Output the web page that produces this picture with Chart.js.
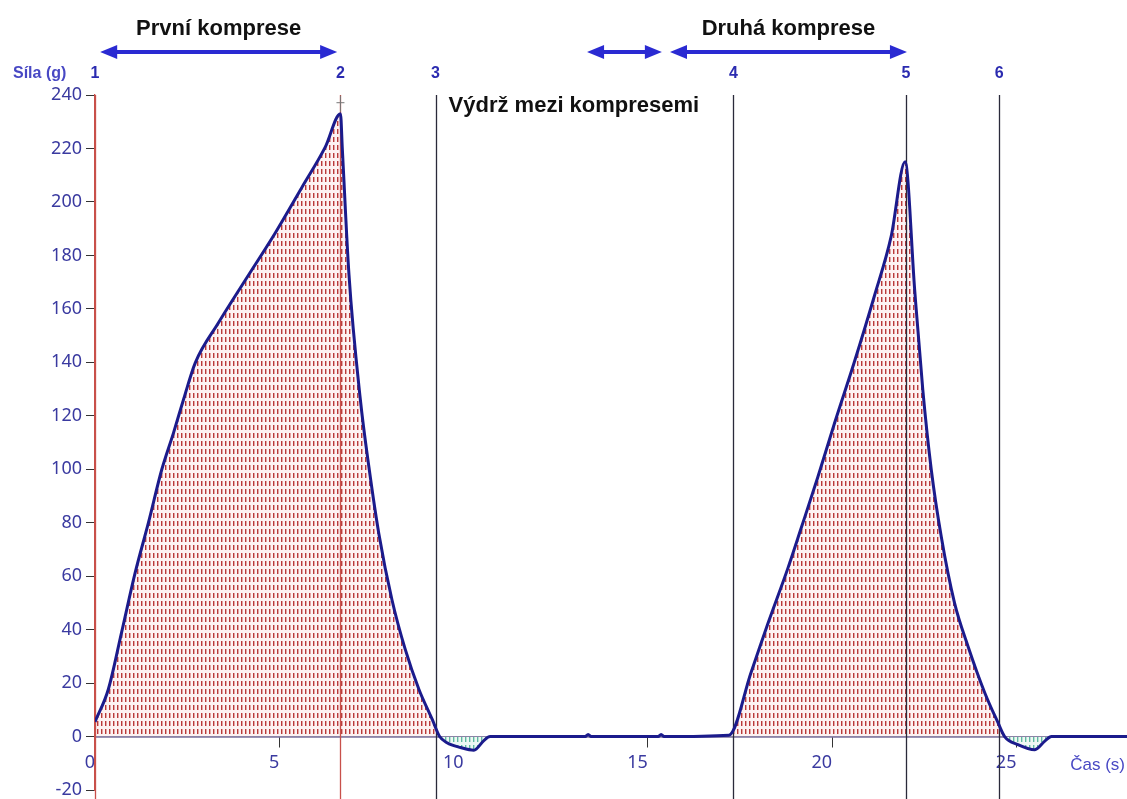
<!DOCTYPE html>
<html>
<head>
<meta charset="utf-8">
<title>Síla v čase – dvojitá komprese</title>
<script src="https://cdn.jsdelivr.net/npm/chart.js@4.4.1/dist/chart.umd.min.js"></script>
<style>
  html, body { margin: 0; padding: 0; background: #ffffff; }
  #wrap { width: 1127px; height: 799px; position: relative; }
</style>
</head>
<body>
<div id="wrap"><canvas id="c" width="1127" height="799"></canvas></div>
<script>
// Measured force curve: time (s) and force (g)
const timeSec = [0, 0.36, 0.72, 1.09, 1.45, 1.81, 2.13, 2.40, 2.72, 3.35,
  4.08, 4.89, 5.62, 6.25, 6.66, 6.71, 6.89, 7.20, 7.43, 7.70,
  8.06, 8.42, 8.79, 9.15, 9.35, 9.55, 9.92, 10.28, 10.55, 10.72,
  12.0, 13.30, 13.38, 13.46, 15.28, 15.36, 15.44, 17.2, 17.8, 18.25,
  18.8, 19.16, 19.61, 20.06, 20.6, 21.15, 21.6, 21.98, 22.24, 22.46,
  22.69, 22.96, 23.32, 23.69, 24.14, 24.5, 24.68, 25.04, 25.5, 25.77,
  25.95, 28.0];
const forceG = [5.5, 17.6, 38.9, 61.3, 80, 99.8, 113.6, 126, 139.8, 154.8,
  170.8, 188.4, 205.6, 220.6, 233, 220, 173, 126, 101, 76,
  51, 32.5, 17.6, 6.4, 0, -2.3, -4.1, -5.1, -1.5, 0,
  0, 0, 0.8, 0, 0, 0.8, 0, 0.5, 24, 42,
  63, 78, 97, 117, 140, 165, 187, 215, 167, 129.7,
  99.8, 74.8, 50, 33.6, 16.4, 5.2, 0, -3, -4.9, -1.7,
  0, 0];

// Numbered event markers (s)
const markerTimes = [0, 6.66, 9.24, 17.32, 22.0, 24.53];
const markerLabels = ['1', '2', '3', '4', '5', '6'];
const markerRed = [true, true, false, false, false, false];

// Phase arrows (start s, end s) and their captions
const arrowSpans = [[0.14, 6.57], [13.35, 15.38], [15.6, 22.03]];
const arrowCaptions = ['První komprese', '', 'Druhá komprese'];
const holdCaption = 'Výdrž mezi kompresemi';

// Axis settings
const xMin = 0, xMax = 28, xStep = 5;
const yMin = -20, yMax = 240, yStep = 20;
const yTitle = 'Síla (g)';
const xTitle = 'Čas (s)';

const canvas = document.getElementById('c');
const ctx0 = canvas.getContext('2d');

function hatch(bg, dark, light) {
  const t = document.createElement('canvas');
  t.width = 4; t.height = 8;
  const g = t.getContext('2d');
  g.fillStyle = bg; g.fillRect(0, 0, 4, 8);
  g.fillStyle = dark; g.fillRect(1, 1, 1, 5);
  g.fillStyle = light; g.fillRect(2, 1, 1, 5);
  return ctx0.createPattern(t, 'repeat');
}
const fillAbove = hatch('#fdf2f2', '#b83a3a', '#e2a4a4');
const fillBelow = hatch('#eef8f4', '#5fb8a0', '#b9e0d4');

const points = timeSec.map((t, i) => ({ x: t, y: forceG[i] }));

function drawArrow(ctx, x1, x2, y) {
  const hl = 17, hw = 7;
  ctx.save();
  ctx.strokeStyle = '#2a2ad2';
  ctx.fillStyle = '#2a2ad2';
  ctx.lineWidth = 4;
  ctx.beginPath();
  ctx.moveTo(x1 + hl - 2, y);
  ctx.lineTo(x2 - hl + 2, y);
  ctx.stroke();
  ctx.beginPath();
  ctx.moveTo(x1, y);
  ctx.lineTo(x1 + hl, y - hw);
  ctx.lineTo(x1 + hl, y + hw);
  ctx.closePath();
  ctx.fill();
  ctx.beginPath();
  ctx.moveTo(x2, y);
  ctx.lineTo(x2 - hl, y - hw);
  ctx.lineTo(x2 - hl, y + hw);
  ctx.closePath();
  ctx.fill();
  ctx.restore();
}

// keep label overflow from shrinking the plot area
function noOverflow(scale) {
  scale.paddingTop = 0; scale.paddingBottom = 0;
  scale.paddingLeft = 0; scale.paddingRight = 0;
}

const overlay = {
  id: 'overlay',
  beforeDatasetsDraw(chart) {
    const { ctx, scales: { x, y } } = chart;
    const top = y.getPixelForValue(yMax);
    ctx.save();
    markerTimes.forEach((t, i) => {
      const px = Math.round(x.getPixelForValue(t)) + 0.5;
      ctx.strokeStyle = markerRed[i] ? '#c8504a' : '#2a2a3a';
      ctx.lineWidth = 1.3;
      ctx.beginPath();
      ctx.moveTo(px, top);
      ctx.lineTo(px, chart.height);
      ctx.stroke();
    });
    ctx.restore();
  },
  afterDraw(chart) {
    const { ctx, scales: { x, y } } = chart;
    ctx.save();

    // crosshair above the first peak
    let pk = 0;
    for (let i = 0; i < 20; i++) if (forceG[i] > forceG[pk]) pk = i;
    const cx = x.getPixelForValue(timeSec[pk]);
    const cy = y.getPixelForValue(forceG[pk]);
    ctx.strokeStyle = '#777777';
    ctx.lineWidth = 1;
    ctx.beginPath();
    ctx.moveTo(cx, cy - 18); ctx.lineTo(cx, cy - 2);
    ctx.moveTo(cx - 4, cy - 11); ctx.lineTo(cx + 4, cy - 11);
    ctx.stroke();

    // marker numbers
    ctx.fillStyle = '#2b2bb0';
    ctx.font = 'bold 16px "Liberation Sans", Arial, sans-serif';
    ctx.textAlign = 'center';
    ctx.textBaseline = 'alphabetic';
    markerTimes.forEach((t, i) => {
      ctx.fillText(markerLabels[i], x.getPixelForValue(t), 78);
    });

    // axis titles
    ctx.fillStyle = '#4848c4';
    ctx.textAlign = 'left';
    ctx.fillText(yTitle, 13, 78);
    ctx.font = '17px "Liberation Sans", Arial, sans-serif';
    ctx.textAlign = 'right';
    ctx.fillText(xTitle, 1125, 770);

    // phase arrows and captions
    ctx.font = 'bold 22px "Liberation Sans", Arial, sans-serif';
    ctx.fillStyle = '#111111';
    ctx.textAlign = 'center';
    arrowSpans.forEach((s, i) => {
      const a = x.getPixelForValue(s[0]);
      const b = x.getPixelForValue(s[1]);
      drawArrow(ctx, a, b, 52);
      if (arrowCaptions[i]) {
        ctx.fillStyle = '#111111';
        ctx.fillText(arrowCaptions[i], (a + b) / 2, 35);
      }
    });
    ctx.textAlign = 'left';
    ctx.fillText(holdCaption, x.getPixelForValue(markerTimes[2]) + 13, 112);
    ctx.restore();
  }
};

new Chart(canvas, {
  type: 'line',
  data: {
    datasets: [{
      data: points,
      borderColor: '#1b1b8c',
      borderWidth: 3,
      pointRadius: 0,
      cubicInterpolationMode: 'monotone',
      fill: { target: 'origin', above: fillAbove, below: fillBelow }
    }]
  },
  options: {
    responsive: false,
    animation: false,
    devicePixelRatio: 1,
    layout: { padding: { left: 0, top: 95, right: 0, bottom: 9 } },
    plugins: {
      legend: { display: false },
      tooltip: { enabled: false },
      filler: { drawTime: 'beforeDatasetsDraw' }
    },
    scales: {
      x: {
        type: 'linear',
        position: { y: 0 },
        min: xMin, max: xMax,
        afterFit: noOverflow,
        border: { display: true, color: '#3a2a6a', width: 1.5 },
        grid: { drawOnChartArea: false, drawTicks: true, tickLength: 10, color: '#333333' },
        ticks: {
          stepSize: xStep, includeBounds: false, align: 'end', padding: 6,
          color: '#3a3aa0', font: { family: '"Noto Sans", sans-serif', size: 18 }
        }
      },
      y: {
        type: 'linear',
        position: 'left',
        min: yMin, max: yMax,
        afterFit(scale) { scale.width = 95; noOverflow(scale); },
        border: { display: true, color: '#c8504a', width: 1.3 },
        grid: { drawOnChartArea: false, drawTicks: true, tickLength: 9, color: '#333333' },
        ticks: {
          stepSize: yStep, padding: 4,
          color: '#3a3aa0', font: { family: '"Noto Sans", sans-serif', size: 18 }
        }
      }
    }
  },
  plugins: [overlay]
});
</script>
</body>
</html>
